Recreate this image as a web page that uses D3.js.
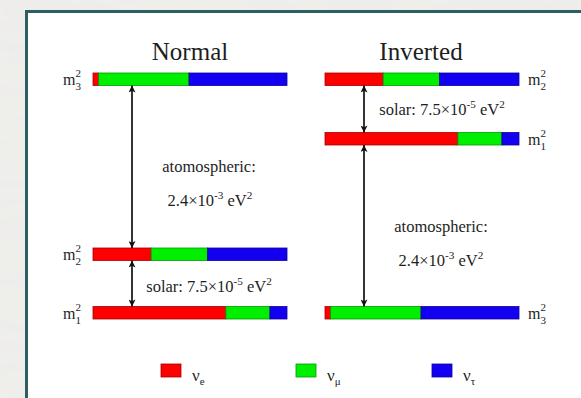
<!DOCTYPE html>
<html>
<head>
<meta charset="utf-8">
<script src="https://cdn.jsdelivr.net/npm/d3@7"></script>
<style>
  html, body { margin: 0; padding: 0; background: #e8e7e4; }
  svg { display: block; }
  text { font-family: "Liberation Serif", "Times New Roman", serif; fill: #1e1e1e; }
</style>
</head>
<body>
<svg id="chart" width="581" height="398"></svg>
<script>
// Flavour composition of each neutrino mass state (|U_alpha i|^2)
const flavors = ["e", "μ", "τ"];
const flavorColors = ["#ff0000", "#00ee00", "#1400f0"];
const massStates = ["m1", "m2", "m3"];
const fracE   = [0.685, 0.300, 0.029];
const fracMu  = [0.227, 0.290, 0.466];
const fracTau = [0.088, 0.410, 0.505];

// Hierarchy panels: order of mass states from top to bottom
const hierarchies = ["Normal", "Inverted"];
const normalOrder = ["m3", "m2", "m1"];
const invertedOrder = ["m2", "m1", "m3"];

// Splitting annotations
const atmLabel = "atomospheric:";
const atmValue = { mant: "2.4×10", exp: "-3", unit: " eV", unitExp: "2" };
const solLabel = "solar: ";
const solValue = { mant: "7.5×10", exp: "-5", unit: " eV", unitExp: "2" };

const svg = d3.select("#chart");
const W = 581, H = 398;

// Background texture
const defs = svg.append("defs");
const filt = defs.append("filter").attr("id", "marble").attr("x", 0).attr("y", 0).attr("width", "100%").attr("height", "100%");
filt.append("feTurbulence").attr("type", "fractalNoise").attr("baseFrequency", "0.012 0.05").attr("numOctaves", 3).attr("seed", 4).attr("result", "n");
filt.append("feColorMatrix").attr("in", "n").attr("type", "matrix")
  .attr("values", "0 0 0 0 0.84  0 0 0 0 0.835  0 0 0 0 0.825  0 0 0 -1.2 0.85").attr("result", "c");
filt.append("feComposite").attr("in", "c").attr("in2", "SourceGraphic").attr("operator", "over");

svg.append("rect").attr("width", W).attr("height", H).attr("fill", "#efeeeb");
svg.append("rect").attr("width", W).attr("height", H).attr("fill", "#efeeeb").attr("filter", "url(#marble)").attr("opacity", 0.8);

// White panel with teal frame
svg.append("rect")
  .attr("x", 26.5).attr("y", 11.5).attr("width", W + 20).attr("height", H + 20)
  .attr("fill", "#ffffff").attr("stroke", "#2e5f60").attr("stroke-width", 3);

// Arrow markers
function marker(id, orient) {
  defs.append("marker").attr("id", id)
    .attr("viewBox", "0 0 10 10").attr("refX", 10).attr("refY", 5)
    .attr("markerWidth", 10).attr("markerHeight", 7).attr("markerUnits", "userSpaceOnUse")
    .attr("orient", orient)
    .append("path").attr("d", "M0,0 L10,5 L0,10 L2.5,5 Z").attr("fill", "#111");
}
marker("head", "auto");
marker("tail", "auto-start-reverse");

const composition = massStates.map((m, i) => [fracE[i], fracMu[i], fracTau[i]]);
const layout = {
  Normal:   { x0: 93,  x1: 287, titleX: 190, arrowX: 132, labelSide: "left",
              levels: { m3: 73, m2: 248, m1: 306.5 }, order: normalOrder },
  Inverted: { x0: 325, x1: 519, titleX: 421, arrowX: 364, labelSide: "right",
              levels: { m2: 73, m1: 132.5, m3: 306.5 }, order: invertedOrder }
};
const barH = 12.5;

function powerText(sel, x, y, size, prefix, v) {
  const t = sel.append("text").attr("x", x).attr("y", y).attr("font-size", size).attr("text-anchor", "middle");
  t.append("tspan").text(prefix + v.mant);
  t.append("tspan").attr("dy", -size * 0.42).attr("font-size", size * 0.68).text(v.exp);
  t.append("tspan").attr("dy", size * 0.42).text(v.unit);
  t.append("tspan").attr("dy", -size * 0.42).attr("font-size", size * 0.68).text(v.unitExp);
  return t;
}

function massLabel(g, x, y, idx) {
  const t = g.append("text").attr("x", x).attr("y", y).attr("font-size", 16).attr("text-anchor", "start");
  t.append("tspan").text("m");
  t.append("tspan").attr("font-size", 11).attr("dy", -8).text("2");
  t.append("tspan").attr("font-size", 11).attr("dx", -5.5).attr("dy", 13).text(String(idx));
}

hierarchies.forEach(name => {
  const L = layout[name];
  const g = svg.append("g");
  const x = d3.scaleLinear().domain([0, 1]).range([L.x0, L.x1]);

  g.append("text").attr("x", L.titleX).attr("y", 60).attr("font-size", 25)
    .attr("text-anchor", "middle").text(name);

  L.order.forEach(m => {
    const i = massStates.indexOf(m);
    const fr = composition[i];
    const cum = d3.cumsum(fr);
    const y = L.levels[m];
    g.selectAll(null).data(fr).join("rect")
      .attr("x", (d, k) => x(cum[k] - d))
      .attr("y", y)
      .attr("width", d => x(d) - x(0))
      .attr("height", barH)
      .attr("fill", (d, k) => flavorColors[k])
      .attr("stroke", (d, k) => d3.color(flavorColors[k]).darker(1.2))
      .attr("stroke-width", 0.8);
    if (L.labelSide === "left") massLabel(g, L.x0 - 30, y + 12, i + 1);
    else massLabel(g, L.x1 + 9, y + 12, i + 1);
  });

  // Splitting arrows between neighbouring levels
  const lv = L.order.map(m => L.levels[m]);
  for (let k = 0; k < lv.length - 1; k++) {
    g.append("line")
      .attr("x1", L.arrowX).attr("x2", L.arrowX)
      .attr("y1", lv[k] + barH).attr("y2", lv[k + 1])
      .attr("stroke", "#111").attr("stroke-width", 1.7)
      .attr("marker-start", "url(#tail)").attr("marker-end", "url(#head)");
  }
});

// Annotations
const g2 = svg.append("g");
const fs = 16.5;
g2.append("text").attr("x", 209).attr("y", 172).attr("font-size", fs).attr("text-anchor", "middle").text(atmLabel);
powerText(g2, 210, 206, fs, "", atmValue);
powerText(g2, 209, 292, fs, solLabel, solValue);
g2.append("text").attr("x", 441).attr("y", 232).attr("font-size", fs).attr("text-anchor", "middle").text(atmLabel);
powerText(g2, 441, 266, fs, "", atmValue);
powerText(g2, 442, 115, fs, solLabel, solValue);

// Legend
const legX = [161, 296, 432];
const leg = svg.append("g");
flavors.forEach((f, k) => {
  leg.append("rect").attr("x", legX[k]).attr("y", 364).attr("width", 20).attr("height", 13)
    .attr("fill", flavorColors[k]).attr("stroke", d3.color(flavorColors[k]).darker(1.2)).attr("stroke-width", 0.8);
  const t = leg.append("text").attr("x", legX[k] + 31).attr("y", 381).attr("font-size", 17);
  t.append("tspan").text("ν");
  t.append("tspan").attr("font-size", 11).attr("dy", 4).text(f);
});
</script>
</body>
</html>
